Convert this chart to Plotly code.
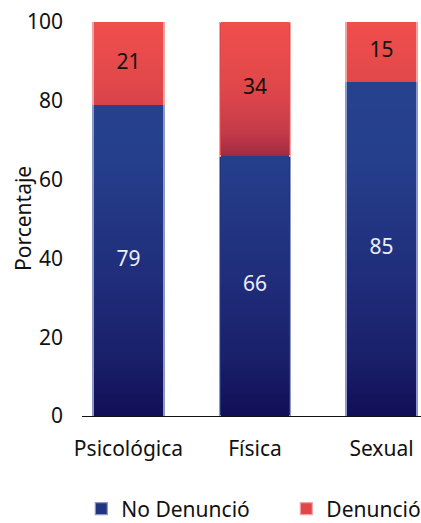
import plotly.graph_objects as go

# ---- data ----
categories = ["Psicológica", "Física", "Sexual"]
no_denuncio = [79, 66, 85]
denuncio = [21, 34, 15]
series_names = ["No Denunció", "Denunció"]
y_ticks = [0, 20, 40, 60, 80, 100]
y_title = "Porcentaje"

FONT = "Noto Sans"
FS = 21

# gradient stops (absolute value on y axis -> colour)
blue_stops = [(0, (17, 14, 87)), (15, (26, 32, 105)), (32, (31, 43, 120)),
              (65, (37, 63, 140)), (100, (39, 67, 143))]
red_stops = [(60, (150, 36, 64)), (66, (160, 41, 66)), (72, (195, 58, 72)),
             (79, (214, 67, 74)), (85, (226, 72, 74)), (100, (239, 79, 76))]


def grad(stops, v):
    if v <= stops[0][0]:
        c = stops[0][1]
    elif v >= stops[-1][0]:
        c = stops[-1][1]
    else:
        for (a, ca), (b, cb) in zip(stops[:-1], stops[1:]):
            if a <= v <= b:
                t = (v - a) / (b - a)
                c = tuple(ca[i] + (cb[i] - ca[i]) * t for i in range(3))
                break
    return "rgb(%d,%d,%d)" % tuple(round(x) for x in c)


fig = go.Figure()

# real data bars (bottom layer: provides legend, outline)
fig.add_trace(go.Bar(x=categories, y=no_denuncio, name=series_names[0],
                     marker=dict(color="#22337f", line=dict(color="#8e97c9", width=1.2)),
                     width=0.561, hovertemplate="%{x}: %{y}<extra>" + series_names[0] + "</extra>"))
fig.add_trace(go.Bar(x=categories, y=denuncio, name=series_names[1],
                     marker=dict(color="#e0474a", line=dict(color="#f4a3a3", width=1.2)),
                     width=0.561, hovertemplate="%{x}: %{y}<extra>" + series_names[1] + "</extra>"))

# gradient overlay built from the same data (thin stacked slices)
for vals, bases, stops in [(no_denuncio, [0, 0, 0], blue_stops),
                           (denuncio, no_denuncio, red_stops)]:
    xs, ys, cs = [], [], []
    for cat, v, b in zip(categories, vals, bases):
        n = max(1, int(v * 2))
        h = v / n
        for k in range(n):
            xs.append(cat)
            ys.append(h)
            cs.append(grad(stops, b + (k + 0.5) * h))
    fig.add_trace(go.Bar(x=xs, y=ys, marker=dict(color=cs, line=dict(width=0)),
                         width=0.545, showlegend=False, hoverinfo="skip",
                         xaxis="x2", yaxis="y2"))

# value labels
lab_y = [v / 2 for v in no_denuncio] + [b + v / 2 for b, v in zip(no_denuncio, denuncio)]
lab_t = [str(v) for v in no_denuncio] + [str(v) for v in denuncio]
lab_c = ["#eceef6"] * 3 + ["#111111"] * 3
fig.add_trace(go.Scatter(x=categories * 2, y=lab_y, text=lab_t, mode="text",
                         textfont=dict(family=FONT, size=FS, color=lab_c),
                         showlegend=False, hoverinfo="skip", xaxis="x2", yaxis="y2"))

xr = [-0.3676, 2.312]
fig.update_layout(
    width=421, height=523,
    margin=dict(l=82, r=0, t=22, b=107, autoexpand=False),
    paper_bgcolor="white", plot_bgcolor="white",
    barmode="stack",
    font=dict(family=FONT, size=FS, color="#111111"),
    xaxis=dict(range=xr, showgrid=False, showline=True, linecolor="#111111", linewidth=1.3,
               ticks="", ticklabelstandoff=14, tickfont=dict(size=FS), automargin=False),
    yaxis=dict(range=[0, 100], tickvals=y_ticks, showgrid=False, zeroline=False,
               showline=False, ticks="", ticklabelstandoff=18, tickfont=dict(size=FS),
               automargin=False),
    xaxis2=dict(range=xr, overlaying="x", visible=False, matches="x"),
    yaxis2=dict(range=[0, 100], overlaying="y", visible=False, matches="y"),
    legend=dict(orientation="h", x=-0.002, xanchor="left", y=-0.236, yanchor="middle",
                font=dict(size=FS), traceorder="normal", itemwidth=30,
                entrywidth=160, entrywidthmode="pixels"),
    annotations=[dict(text=y_title, textangle=-90, xref="paper", yref="paper",
                      x=-0.174, y=0.5, xanchor="center", yanchor="middle",
                      showarrow=False, font=dict(family=FONT, size=FS, color="#111111"))],
    showlegend=True,
)

fig.write_html("out.html")
